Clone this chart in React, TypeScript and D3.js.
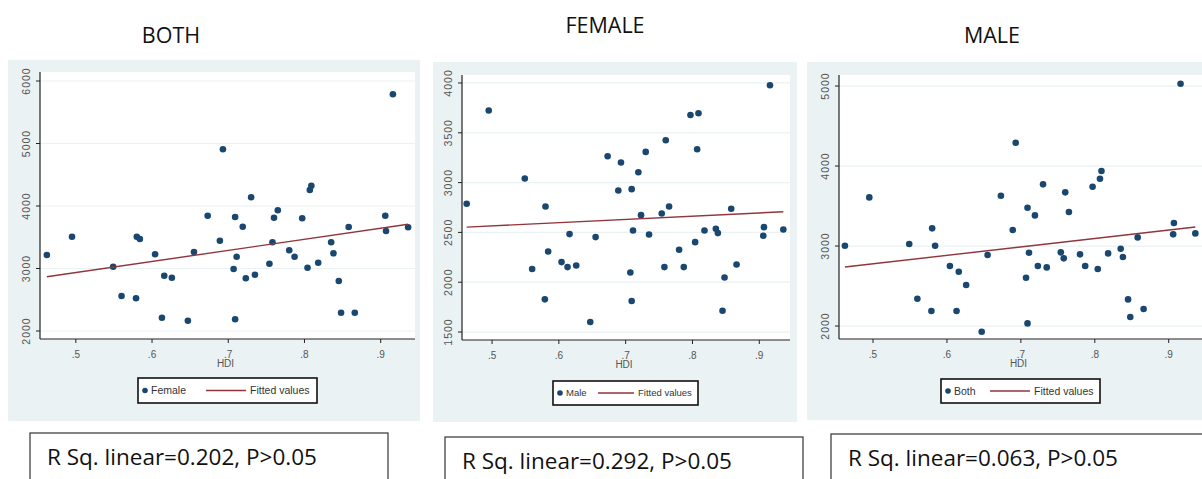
import React from "react";
import * as d3 from "d3";

// HDI per country (shared by the three panels)
const hdi = [0.462, 0.495, 0.549, 0.560, 0.579, 0.580, 0.584, 0.604, 0.613, 0.616, 0.626, 0.647, 0.655, 0.673, 0.689, 0.693, 0.707, 0.709, 0.709, 0.711, 0.719, 0.723, 0.730, 0.735, 0.754, 0.758, 0.760, 0.765, 0.780, 0.787, 0.797, 0.804, 0.807, 0.809, 0.818, 0.835, 0.838, 0.845, 0.848, 0.858, 0.866, 0.906, 0.907, 0.916, 0.936];

const female = [3216, 3509, 3029, 2560, 2523, 3509, 3472, 3227, 2213, 2885, 2853, 2165, 3264, 3845, 3445, 4907, 2992, 3824, 2187, 3189, 3669, 2843, 4139, 2901, 3077, 3419, 3813, 3931, 3291, 3189, 3803, 3013, 4256, 4325, 3093, 3419, 3243, 2800, 2293, 3664, 2293, 3845, 3600, 5787, 3659];
const male = [2787, 3723, 3041, 2132, 1828, 2760, 2309, 2202, 2152, 2483, 2168, 1600, 2453, 3265, 2920, 3201, 2098, 2934, 1811, 2519, 3104, 2673, 3308, 2479, 2690, 2152, 3425, 2760, 2326, 2152, 3679, 2402, 3335, 3696, 2519, 2536, 2493, 1714, 2048, 2737, 2178, 2466, 2553, 3977, 2529];
const both = [3004, 3608, 3025, 2342, 2188, 3221, 3004, 2750, 2188, 2679, 2513, 1929, 2888, 3629, 3200, 4292, 2604, 3479, 2033, 2917, 3383, 2750, 3771, 2733, 2921, 2846, 3671, 3425, 2896, 2750, 3742, 2713, 3842, 3938, 2908, 2967, 2863, 2333, 2113, 3108, 2213, 3146, 3288, 5029, 3158];

// fitted line end points
const fitHdi = [0.462, 0.936];
const fitFemale = [2869, 3707];
const fitMale = [2553, 2707];
const fitBoth = [2738, 3238];

const xTicks = [0.5, 0.6, 0.7, 0.8, 0.9];
const xTickLabels = [".5", ".6", ".7", ".8", ".9"];
const yTicks1 = [2000, 3000, 4000, 5000, 6000];
const yTicks2 = [1500, 2000, 2500, 3000, 3500, 4000];
const yTicks3 = [2000, 3000, 4000, 5000];

const titles = ["BOTH", "FEMALE", "MALE"];
const legendNames = ["Female", "Male", "Both"];
const rsq = ["0.202", "0.292", "0.063"];

const BG = "#eaf2f3";
const NAVY = "#1a476f";
const MAROON = "#90353b";
const TICK = "#555";

function Panel(props: any) {
  const { bg, plot, xDom, yDom, yTicks, ys, fit, legend, name, title, box, r2 } = props;
  const x = d3.scaleLinear().domain(xDom).range([plot.x0, plot.x1]);
  const y = d3.scaleLinear().domain(yDom).range([plot.y1, plot.y0]);
  const pts = hdi.map((h, i) => ({ h, v: ys[i] }));
  const line = d3.line<number>().x((d, i) => x(fitHdi[i])).y((d) => y(d));
  const lfs = legend.fs || 10.5;

  return (
    <g>
      <text x={title.x} y={title.y} textAnchor="middle" fontFamily="Open Sans" fontSize={21.5} fill="#111">
        {title.text}
      </text>
      <rect x={bg.x} y={bg.y} width={bg.w} height={bg.h} fill={BG} />
      <rect x={plot.x0} y={plot.y0} width={plot.x1 - plot.x0} height={plot.y1 - plot.y0} fill="#fff" />
      {yTicks.map((t: number) => (
        <line key={"g" + t} x1={plot.x0} x2={plot.x1} y1={y(t)} y2={y(t)} stroke={BG} strokeWidth={1.2} />
      ))}
      {/* axes */}
      <line x1={plot.x0} x2={plot.x0} y1={plot.y0} y2={plot.y1} stroke="#222" strokeWidth={1.2} />
      <line x1={plot.x0} x2={plot.x1} y1={plot.y1} y2={plot.y1} stroke="#222" strokeWidth={1.2} />
      {yTicks.map((t: number) => (
        <g key={"y" + t}>
          <line x1={plot.x0 - 4} x2={plot.x0} y1={y(t)} y2={y(t)} stroke="#222" />
          <text
            transform={`translate(${plot.x0 - 14},${y(t)}) rotate(-90)`}
            textAnchor="middle"
            dy="0.35em"
            fontFamily="Liberation Sans"
            fontSize={10.5}
            letterSpacing={1}
            fill={TICK}
          >
            {t}
          </text>
        </g>
      ))}
      {xTicks.map((t, i) => (
        <g key={"x" + t}>
          <line x1={x(t)} x2={x(t)} y1={plot.y1} y2={plot.y1 + 4} stroke="#222" />
          <text x={x(t)} y={plot.y1 + 19} textAnchor="middle" fontFamily="Liberation Sans" fontSize={10} fill={TICK}>
            {xTickLabels[i]}
          </text>
        </g>
      ))}
      <text x={(plot.x0 + plot.x1) / 2 - 2} y={plot.y1 + 28} textAnchor="middle" fontFamily="Liberation Sans" fontSize={10} fill={TICK}>
        HDI
      </text>
      {pts.map((p, i) => (
        <circle key={i} cx={x(p.h)} cy={y(p.v)} r={3.3} fill={NAVY} />
      ))}
      <path d={line(fit) || ""} fill="none" stroke={MAROON} strokeWidth={1.4} />
      {/* legend */}
      <rect x={legend.x} y={legend.y} width={legend.w} height={legend.h} fill="#fff" stroke="#111" strokeWidth={1.6} />
      <circle cx={legend.x + 7} cy={legend.y + legend.h / 2} r={2.8} fill={NAVY} />
      <text x={legend.x + 13} y={legend.y + legend.h / 2} dy="0.35em" fontFamily="Liberation Sans" fontSize={lfs} fill="#333">
        {name}
      </text>
      <line
        x1={legend.lx0}
        x2={legend.lx1}
        y1={legend.y + legend.h / 2}
        y2={legend.y + legend.h / 2}
        stroke={MAROON}
        strokeWidth={1.4}
      />
      <text x={legend.lx1 + 4} y={legend.y + legend.h / 2} dy="0.35em" fontFamily="Liberation Sans" fontSize={lfs} fill="#333">
        Fitted values
      </text>
      {/* R squared box */}
      <rect x={box.x} y={box.y} width={box.w} height={60} fill="#fff" stroke="#333" strokeWidth={1.2} />
      <text x={box.x + 17} y={box.y + 32} fontFamily="Open Sans" fontSize={22.5} fill="#111">
        {`R Sq. linear=${r2}, P>0.05`}
      </text>
    </g>
  );
}

export default function App() {
  return (
    <svg width={1202} height={479} style={{ position: "absolute", left: 0, top: 0, background: "#fff" }}>
      <Panel
        title={{ text: titles[0], x: 171, y: 43 }}
        bg={{ x: 8, y: 60, w: 412, h: 361 }}
        plot={{ x0: 40, x1: 415, y0: 72, y1: 339 }}
        xDom={[0.453, 0.945]}
        yDom={[1872, 6144]}
        yTicks={yTicks1}
        ys={female}
        fit={fitFemale}
        legend={{ x: 138, y: 378, w: 179, h: 25, lx0: 206, lx1: 246 }}
        name={legendNames[0]}
        box={{ x: 30, y: 433, w: 358 }}
        r2={rsq[0]}
      />
      <Panel
        title={{ text: titles[1], x: 605, y: 33 }}
        bg={{ x: 433, y: 62, w: 364, h: 360 }}
        plot={{ x0: 462, x1: 790, y0: 75, y1: 340 }}
        xDom={[0.455, 0.946]}
        yDom={[1420, 4080]}
        yTicks={yTicks2}
        ys={male}
        fit={fitMale}
        legend={{ x: 553, y: 381, w: 145, h: 24, lx0: 598, lx1: 634, fs: 9.5 }}
        name={legendNames[1]}
        box={{ x: 445, y: 437, w: 358 }}
        r2={rsq[1]}
      />
      <Panel
        title={{ text: titles[2], x: 992, y: 43 }}
        bg={{ x: 807, y: 62, w: 400, h: 358 }}
        plot={{ x0: 839, x1: 1202, y0: 75, y1: 339 }}
        xDom={[0.454, 0.945]}
        yDom={[1838, 5138]}
        yTicks={yTicks3}
        ys={both}
        fit={fitBoth}
        legend={{ x: 941, y: 379, w: 159, h: 24, lx0: 990, lx1: 1030 }}
        name={legendNames[2]}
        box={{ x: 831, y: 434, w: 380 }}
        r2={rsq[2]}
      />
    </svg>
  );
}
